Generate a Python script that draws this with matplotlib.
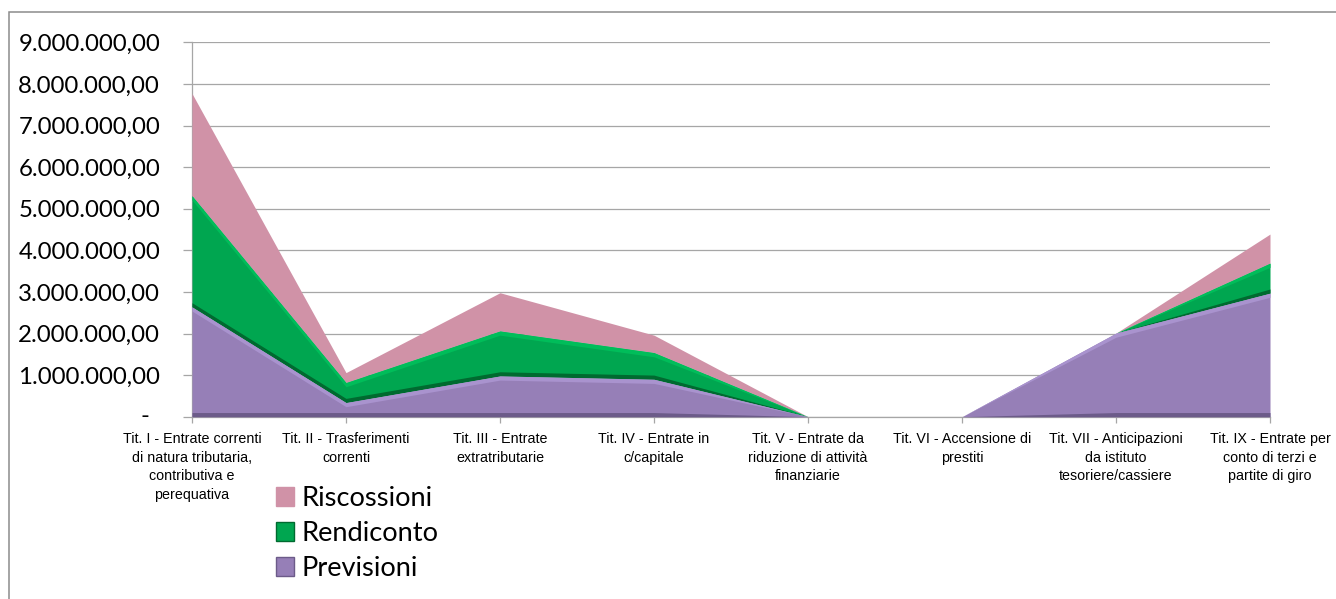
import numpy as np
import matplotlib
matplotlib.use("Agg")
import matplotlib.pyplot as plt
from matplotlib.patches import Patch, Rectangle
from matplotlib.ticker import FuncFormatter, MultipleLocator

# Budget titles (entrate) and the three stacked series, in euro
categorie = [
    "Tit. I - Entrate correnti\ndi natura tributaria,\ncontributiva e\nperequativa",
    "Tit. II - Trasferimenti\ncorrenti",
    "Tit. III - Entrate\nextratributarie",
    "Tit. IV - Entrate in\nc/capitale",
    "Tit. V - Entrate da\nriduzione di attività\nfinanziarie",
    "Tit. VI - Accensione di\nprestiti",
    "Tit. VII - Anticipazioni\nda istituto\ntesoriere/cassiere",
    "Tit. IX - Entrate per\nconto di terzi e\npartite di giro",
]
previsioni = [2640000, 340000, 980000, 900000, 0, 0, 2010000, 2970000]
rendiconto = [2670000, 480000, 1080000, 640000, 0, 0, 0, 720000]
riscossioni = [2460000, 240000, 920000, 420000, 0, 0, 0, 700000]

PINK = "#D092A7"
GREEN = "#00A650"
GREEN_LIGHT = "#00BD5A"
GREEN_DARK = "#006A30"
PURPLE = "#967FB7"
PURPLE_LIGHT = "#A993CE"
PURPLE_DARK = "#6C5B89"
GRID = "#A6A6A6"

plt.rcParams["font.family"] = ["Lato", "DejaVu Sans"]

W, H = 1336, 599
fig = plt.figure(figsize=(W / 100, H / 100), dpi=100)
ax = fig.add_axes([192 / W, 1 - 416.7 / H, (1270 - 192) / W, (416.7 - 42.3) / H])

x = np.arange(len(categorie))
p = np.array(previsioni, dtype=float)
r = np.array(rendiconto, dtype=float)
s = np.array(riscossioni, dtype=float)
lvl1 = p
lvl2 = p + r
lvl3 = p + r + s

# stacked areas
ax.fill_between(x, lvl2, lvl3, color=PINK, lw=0, zorder=2)
ax.fill_between(x, lvl1, lvl2, color=GREEN, lw=0, zorder=2)
ax.fill_between(x, 0, lvl1, color=PURPLE, lw=0, zorder=2)

# soft bevel edges on the lower two bands
edge = 100000
ax.fill_between(x, lvl2 - np.minimum(edge, r), lvl2, color=GREEN_LIGHT, lw=0, zorder=3)
ax.fill_between(x, lvl1, lvl1 + np.minimum(edge, r), color=GREEN_DARK, lw=0, zorder=3)
ax.fill_between(x, lvl1 - np.minimum(edge, p), lvl1, color=PURPLE_LIGHT, lw=0, zorder=3)
ax.fill_between(x, 0, np.minimum(edge, p), color=PURPLE_DARK, lw=0, zorder=3)

ax.set_xlim(0, len(categorie) - 1)
ax.set_ylim(0, 9000000)
ax.yaxis.set_major_locator(MultipleLocator(1000000))


def euro(v, _pos):
    if v == 0:
        return ""
    return f"{v:,.2f}".replace(",", "X").replace(".", ",").replace("X", ".")


ax.yaxis.set_major_formatter(FuncFormatter(euro))
# zero is shown as a dash, set in from the number column
ax.annotate("-", xy=(0, 0), xycoords=("axes fraction", "data"),
            xytext=(-43, 0), textcoords="offset pixels",
            ha="right", va="center", fontsize=17.3, color="#000000",
            annotation_clip=False)

ax.set_xticks(x)
ax.set_xticklabels(categorie, fontsize=10.3, linespacing=1.43, color="#000000",
                   family=["Liberation Sans", "DejaVu Sans"])
ax.tick_params(axis="x", length=4, width=0.9, color=GRID, pad=7)
ax.tick_params(axis="y", length=6.5, width=0.9, color=GRID, pad=16.5,
               labelsize=17.3, labelcolor="#000000")

ax.grid(axis="y", color=GRID, lw=0.9)
ax.set_axisbelow(True)
for side in ("top", "right"):
    ax.spines[side].set_visible(False)
for side in ("left", "bottom"):
    ax.spines[side].set_color(GRID)
    ax.spines[side].set_linewidth(0.9)
    ax.spines[side].set_zorder(1)

handles = [
    Patch(facecolor=PINK, edgecolor=PINK, label="Riscossioni"),
    Patch(facecolor=GREEN, edgecolor=GREEN_DARK, label="Rendiconto"),
    Patch(facecolor=PURPLE, edgecolor=PURPLE_DARK, label="Previsioni"),
]
fig.legend(handles=handles, loc="upper left",
           bbox_to_anchor=(276 / W, 1 - 486 / H), frameon=False,
           fontsize=19.6, handlelength=0.65, handleheight=0.65,
           handletextpad=0.3, labelspacing=0.37, borderpad=0, borderaxespad=0)

# chart-area frame
fig.add_artist(Rectangle((8.5 / W, -0.05), 1.2, (H - 12) / H + 0.05,
                         transform=fig.transFigure, fill=False,
                         edgecolor="#8C8C8C", lw=1.1))

fig.savefig("out.png", dpi=100)
